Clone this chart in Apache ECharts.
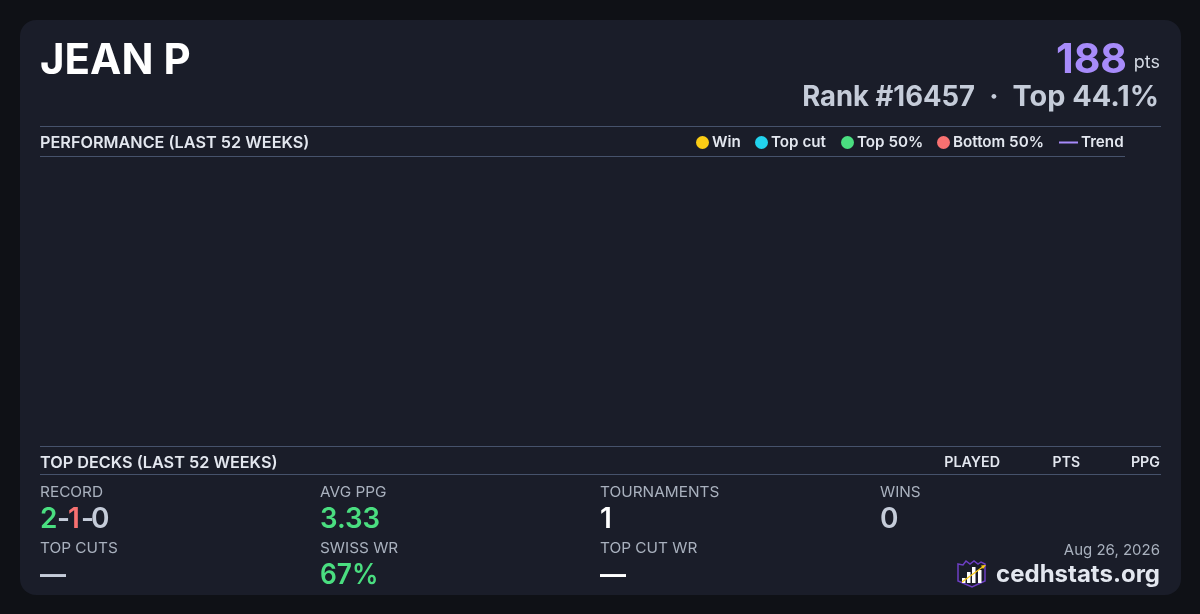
<!DOCTYPE html>
<html><head><meta charset="utf-8">
<style>html,body{margin:0;padding:0;background:#0f1116}#c{width:1200px;height:614px}</style>
<script src="https://cdn.jsdelivr.net/npm/echarts@6/dist/echarts.min.js"></script>
</head><body><div id="c"></div>
<script>
const playerName = 'JEAN P';
const points = '188';
const pointsUnit = 'pts';
const rankLine = ['Rank #16457', '·', 'Top 44.1%'];
const chartTitle = 'PERFORMANCE (LAST 52 WEEKS)';
const decksTitle = 'TOP DECKS (LAST 52 WEEKS)';
const deckColumns = ['PLAYED', 'PTS', 'PPG'];
const legendNames = ['Win', 'Top cut', 'Top 50%', 'Bottom 50%', 'Trend'];
const legendColors = ['#facc15', '#22d3ee', '#4ade80', '#f87171', '#a78bfa'];
const winPoints = [];
const topCutPoints = [];
const top50Points = [];
const bottom50Points = [];
const trendPoints = [];
const statLabels = ['RECORD', 'AVG PPG', 'TOURNAMENTS', 'WINS', 'TOP CUTS', 'SWISS WR', 'TOP CUT WR'];
const statValues = ['', '3.33', '1', '0', '—', '67%', '—'];
const recordParts = ['2', '-', '1', '-', '0'];
const dateText = 'Aug 26, 2026';
const siteText = 'cedhstats.org';

const F = 'Inter, sans-serif';
const W = '#ffffff', SOFT = '#c5ccd9', LABEL = '#a9b1be', HEAD = '#e3e7ef', RULE = '#46526b', GREEN = '#4ade80', RED = '#f87171';
// y is the text baseline
const txt = (x, y, text, size, weight, fill, align, sx) => ({
  type: 'text', z: 5, x, y: y - size * 0.83, scaleX: sx || 1,
  style: { text, font: `${weight} ${size}px ${F}`, fill, align: align || 'left', verticalAlign: 'top' }
});
const rule = (x1, x2, y) => ({ type: 'rect', z: 3, shape: { x: x1, y, width: x2 - x1, height: 1 }, style: { fill: RULE } });

const statX = [40, 320, 600, 880, 40, 320, 600];
const statLabelY = [497, 497, 497, 497, 553, 553, 553];
const statValueY = [529, 529, 529, 529, 585, 585, 585];
const statColor = [SOFT, GREEN, W, SOFT, SOFT, GREEN, W];
const statScale = [1, 0.985, 1, 1, 0.93, 0.94, 0.93];
const legendX = [696, 755, 841, 937, 1059];

const graphic = [
  { type: 'rect', z: 1, shape: { x: 20, y: 20, width: 1161, height: 575, r: 16 }, style: { fill: '#1a1d29' } },
  txt(40, 75, playerName, 42, 700, W),
  txt(1127, 74, points, 41, 700, '#a78bfa', 'right'),
  txt(1160, 69, pointsUnit, 18, 400, '#d3d8e2', 'right'),
  txt(975, 107, rankLine[0], 28, 700, SOFT, 'right', 0.98),
  txt(994, 107, rankLine[1], 28, 700, SOFT, 'center'),
  txt(1159, 107, rankLine[2], 28, 700, SOFT, 'right', 1.03),
  rule(40, 1161, 126), rule(40, 1125, 156),
  txt(40, 148, chartTitle, 16, 600, HEAD, 'left', 1.015),
  rule(40, 1161, 446), rule(40, 1161, 474),
  txt(40, 468, decksTitle, 16, 600, HEAD, 'left', 1.015),
  txt(1000, 467, deckColumns[0], 14, 600, HEAD, 'right', 1.02),
  txt(1080, 467, deckColumns[1], 14, 600, HEAD, 'right'),
  txt(1160, 467, deckColumns[2], 14, 600, HEAD, 'right', 1.02),
  txt(1160, 555, dateText, 15, 400, LABEL, 'right'),
  txt(1160, 583, siteText, 24, 700, '#e3e7ef', 'right'),
  // logo
  { type: 'polygon', z: 5, shape: { points: [[958,564],[963,565],[966,561],[970,564],[974,561],[978,564],[981,562],[985,564],[985,581],[972,587],[958,581]] }, style: { fill: '#1a1d29', stroke: '#6d3fc4', lineWidth: 1.5 } },
  { type: 'rect', z: 6, shape: { x: 962, y: 578, width: 3.5, height: 5 }, style: { fill: W } },
  { type: 'rect', z: 6, shape: { x: 967, y: 572, width: 3.5, height: 11 }, style: { fill: W } },
  { type: 'rect', z: 6, shape: { x: 972, y: 567, width: 3.5, height: 16 }, style: { fill: W } },
  { type: 'rect', z: 6, shape: { x: 978, y: 570, width: 3.5, height: 13 }, style: { fill: W } },
  { type: 'line', z: 7, shape: { x1: 962, y1: 582, x2: 984, y2: 566 }, style: { stroke: '#facc15', lineWidth: 1.2 } },
  { type: 'polygon', z: 7, shape: { points: [[986,565],[981,565.5],[983,569]] }, style: { fill: '#facc15' } }
];
statLabels.forEach((s, i) => {
  graphic.push(txt(statX[i], statLabelY[i], s, 15, 400, LABEL, 'left', 1.025));
  if (statValues[i]) graphic.push(txt(statX[i], statValueY[i], statValues[i], 28, 600, statColor[i], 'left', statScale[i]));
});
const recordColors = [GREEN, SOFT, RED, SOFT, SOFT];
const recordX = [40, 57, 68, 81, 91];
recordParts.forEach((p, i) => graphic.push(txt(recordX[i], 529, p, 28, 600, recordColors[i])));

const seriesData = [winPoints, topCutPoints, top50Points, bottom50Points];
const series = seriesData.map((d, i) => ({
  name: legendNames[i], type: 'scatter', data: d, itemStyle: { color: legendColors[i], opacity: 1 }
}));
series.push({ name: legendNames[4], type: 'line', data: trendPoints, showSymbol: false, lineStyle: { color: legendColors[4], width: 2 }, itemStyle: { color: legendColors[4], opacity: 1 } });

const chart = echarts.init(document.getElementById('c'), null, { renderer: 'canvas' });
chart.setOption({
  animation: false,
  backgroundColor: '#0f1116',
  textStyle: { fontFamily: F },
  grid: { left: 40, right: 75, top: 157, bottom: 168 },
  xAxis: { type: 'value', show: false, min: 0, max: 52 },
  yAxis: { type: 'value', show: false, min: 0, max: 10 },
  legend: legendNames.map((n, i) => ({
    data: [i === 4 ? { name: n, icon: 'rect' } : { name: n, icon: 'circle' }],
    left: legendX[i], top: 135, padding: 0,
    itemWidth: i === 4 ? 19 : 13, itemHeight: i === 4 ? 2 : 13,
    itemGap: 0, selectedMode: false,
    textStyle: { color: HEAD, fontFamily: F, fontWeight: 600, fontSize: 15.2, padding: [0, 0, 0, -2] }
  })),
  graphic: { elements: graphic },
  series
});
</script></body></html>
